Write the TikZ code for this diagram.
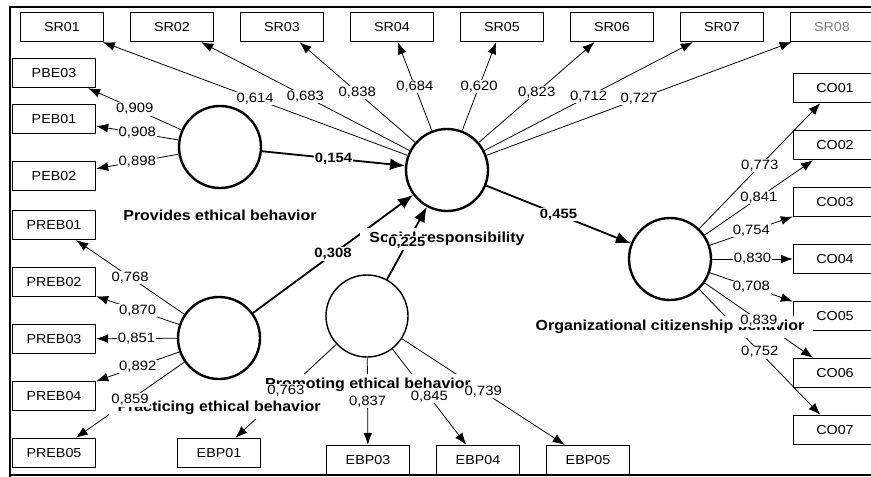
\documentclass[tikz,border=0pt]{standalone}
\usepackage{fontspec}
\setmainfont{Liberation Sans}[FakeStretch=1.1]
\usetikzlibrary{positioning,
	calc,
	arrows.meta}
\pgfdeclarelayer{names}
\pgfdeclarelayer{front}
\pgfsetlayers{main,names,front}
\tikzset{
	ind/.style={draw, line width=1.4pt, minimum width=83pt, minimum height=29pt, inner sep=0pt, font=\fontsize{13}{15}\selectfont},
	lv/.style={circle, draw, line width=2.4pt, minimum size=82pt, inner sep=0pt},
	lvname/.style={fill=white, inner xsep=9pt, inner ysep=4pt, text height=10.5pt, text depth=3pt, font=\fontsize{14.5}{16}\bfseries\selectfont},
	load/.style={line width=0.8pt, ->, >={Latex[length=12pt,width=9pt]}},
	struct/.style={line width=1.8pt, ->, >={Latex[length=15pt,width=12pt]}},
	val/.style={fill=white, inner sep=1pt, font=\fontsize{13.5}{15}\selectfont},
	bval/.style={val, font=\fontsize{13.5}{15}\bfseries\selectfont}
}

\begin{document}
\begin{tikzpicture}[x=1pt, y=-1pt]
	\useasboundingbox (0,0) rectangle (871,477);
	\fill[white] (0,0) rectangle (871,477);
	% frame
	\draw[line width=2.2pt] (880,7) -- (10,7) -- (10,480);
	\draw[line width=1.2pt] (10,475) -- (880,475);

	% latent variables
	\node[lv] (PEB) at (220,147) {};
	\node[lv] (PREB) at (219,338) {};
	\node[lv] (SR) at (447,170) {};
	\node[lv, line width=1.4pt] (EBP) at (367,316) {};
	\node[lv] (OCB) at (670,259) {};

	% indicators
	\foreach \i in {1,...,7} {
		\node[ind] (SR0\i) at ({62+110*(\i-1)},27) {SR0\i};
	}
	\node[ind, line width=1pt, text=gray] (SR08) at (832,27) {SR08};
	\node[ind] (PBE03) at (54,73) {PBE03};
	\node[ind] (PEB01) at (54,119) {PEB01};
	\node[ind] (PEB02) at (54,176) {PEB02};
	\foreach \i in {1,...,5} {
		\node[ind] (PREB0\i) at (54,{225+57*(\i-1)}) {PREB0\i};
	}
	\node[ind] (EBP01) at (219,453) {EBP01};
	\node[ind] (EBP03) at (368,460) {EBP03};
	\node[ind] (EBP04) at (478,460) {EBP04};
	\node[ind] (EBP05) at (588,460) {EBP05};
	\foreach \i in {1,...,7} {
		\node[ind] (CO0\i) at (835,{88+57*(\i-1)}) {CO0\i};
	}

	% outer loadings
	\foreach \lv/\b/\v in {SR/SR01/{0,614}, SR/SR02/{0,683}, SR/SR03/{0,838}, SR/SR04/{0,684},
			SR/SR05/{0,620}, SR/SR06/{0,823}, SR/SR07/{0,712}, SR/SR08/{0,727},
			PEB/PBE03/{0,909}, PEB/PEB01/{0,908}, PEB/PEB02/{0,898},
			PREB/PREB01/{0,768}, PREB/PREB02/{0,870}, PREB/PREB03/{0,851}, PREB/PREB04/{0,892}, PREB/PREB05/{0,859},
			EBP/EBP01/{0,763}, EBP/EBP03/{0,837}, EBP/EBP04/{0,845}, EBP/EBP05/{0,739},
			OCB/CO01/{0,773}, OCB/CO02/{0,841}, OCB/CO03/{0,754}, OCB/CO04/{0,830},
			OCB/CO05/{0,708}, OCB/CO06/{0,839}, OCB/CO07/{0,752}} {
		\draw[load] (\lv) -- (\b);
		\begin{pgfonlayer}{front}
			\path (\lv) -- node[val] {\v} (\b);
		\end{pgfonlayer}
	}

	% path coefficients
	\foreach \a/\b/\v in {PEB/SR/{0,154}, PREB/SR/{0,308}, EBP/SR/{0,225}, SR/OCB/{0,455}} {
		\draw[struct] (\a) -- (\b);
		\begin{pgfonlayer}{front}
			\path (\a) -- node[bval] {\v} (\b);
		\end{pgfonlayer}
	}

	% construct names
	\begin{pgfonlayer}{names}
		\node[lvname] (PEBname) at ($(PEB)+(0,70)$) {Provides ethical behavior};
		\node[lvname] (PREBname) at ($(PREB)+(0,70)$) {Practicing ethical behavior};
		\node[lvname] (SRname) at ($(SR)+(0,69)$) {Social responsibility};
		\node[lvname] (EBPname) at ($(EBP)+(1,69)$) {Promoting ethical behavior};
		\node[lvname] (OCBname) at ($(OCB)+(0,68)$) {Organizational citizenship behavior};
	\end{pgfonlayer}
\end{tikzpicture}
\end{document}
